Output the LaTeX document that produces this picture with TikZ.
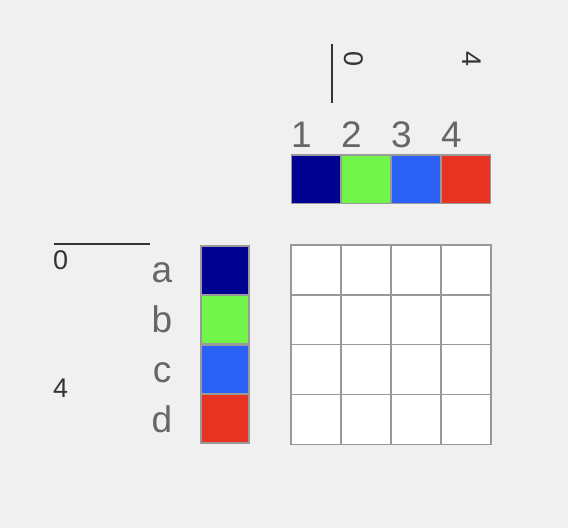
\documentclass[tikz,border=0pt]{standalone}
\usepackage{fontspec}
\setmainfont{Liberation Sans}
\definecolor{bgc}{HTML}{F0F0F0}
\definecolor{cdark}{HTML}{000091}
\definecolor{cgreen}{HTML}{72F54A}
\definecolor{cblue}{HTML}{2B62F5}
\definecolor{cred}{HTML}{E83323}
\definecolor{bordc}{HTML}{999999}
\definecolor{labc}{HTML}{666666}
\definecolor{axc}{HTML}{333333}
\tikzset{
  swatch/.style={draw=bordc, line width=1.5pt, minimum width=49pt, minimum height=48.5pt, inner sep=0pt},
  cell/.style={draw=bordc, fill=white, line width=1.5pt, minimum size=50pt, inner sep=0pt},
  biglab/.style={text=labc, font=\fontsize{37}{40}\selectfont, inner sep=0pt},
  axlab/.style={text=axc, font=\fontsize{27}{30}\selectfont, inner sep=0pt},
  axline/.style={draw=axc, line width=2pt}
}
\begin{document}
\begin{tikzpicture}[x=1pt,y=-1pt]
\fill[bgc] (0,0) rectangle (568,528);
\useasboundingbox (0,0) rectangle (568,528);
% top axis
\coordinate (va) at (332,44);
\coordinate (vb) at (332,103);
\draw[axline] (va) -- (vb);
\node[axlab, rotate=-90, anchor=base west] (tz) at (344,51) {0};
\node[axlab, rotate=-90, anchor=base west] (tf) at (462,51) {4};
% left axis
\coordinate (ha) at (54,244);
\coordinate (hb) at (150,244);
\draw[axline] (ha) -- (hb);
\node[axlab, anchor=base west] (lz) at (53,269) {0};
\node[axlab, anchor=base west] (lf) at (53,397) {4};
% top swatches and labels
\foreach \i/\c in {1/cdark,2/cgreen,3/cblue,4/cred}{
  \node[swatch, fill=\c] (t\i) at (316+50*\i-50,179) {};
  \node[biglab, anchor=base west] (tn\i) at (291+50*\i-50,147) {\i};
}
% left swatches and labels
\foreach \i/\c/\l in {1/cdark/a,2/cgreen/b,3/cblue/c,4/cred/d}{
  \node[swatch, fill=\c, minimum width=48pt] (s\i) at (225,270+49.5*\i-49.5) {};
  \node[biglab, anchor=base] (sl\i) at (162,282+50*\i-50) {\l};
}
% grid
\foreach \r in {1,...,4}{
  \foreach \k in {1,...,4}{
    \node[cell] (g\r\k) at (316+50*\k-50,270+49.75*\r-49.75) {};
  }
}
\end{tikzpicture}
\end{document}
